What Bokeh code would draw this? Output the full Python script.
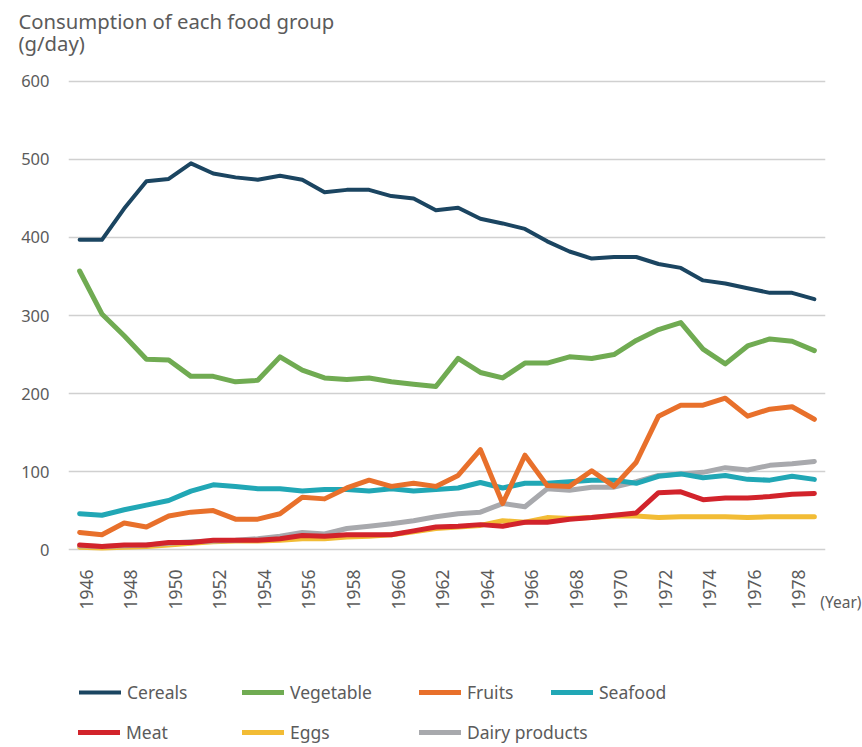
import math
from bokeh.plotting import figure
from bokeh.layouts import column
from bokeh.models import Range1d, FixedTicker, Title, Legend, LegendItem, ColumnDataSource
from bokeh.embed import file_html
from bokeh.resources import INLINE

years = list(range(1946, 1980))
tick_years = list(range(1946, 1980, 2))
y_ticks = [0, 100, 200, 300, 400, 500, 600]

cereals = [397, 397, 437, 472, 475, 495, 482, 477, 474, 479, 474, 458, 461, 461, 453, 450, 435,
           438, 424, 418, 411, 395, 382, 373, 375, 375, 366, 361, 345, 341, 335, 329, 329, 321]
vegetable = [357, 302, 274, 244, 243, 222, 222, 215, 217, 247, 230, 220, 218, 220, 215, 212, 209,
             245, 227, 220, 239, 239, 247, 245, 250, 268, 282, 291, 257, 238, 261, 270, 267, 255]
fruits = [22, 19, 34, 29, 43, 48, 50, 39, 39, 46, 67, 65, 79, 89, 81, 85, 81,
          95, 128, 59, 121, 82, 81, 101, 81, 112, 171, 185, 185, 194, 171, 180, 183, 167]
seafood = [46, 44, 51, 57, 63, 75, 83, 81, 78, 78, 75, 77, 77, 75, 78, 75, 77,
           79, 86, 79, 85, 85, 87, 89, 89, 85, 94, 97, 92, 95, 90, 89, 94, 90]
meat = [6, 4, 6, 6, 9, 9, 12, 12, 12, 14, 18, 17, 19, 19, 19, 24, 29,
        30, 32, 30, 35, 35, 39, 41, 44, 47, 73, 74, 64, 66, 66, 68, 71, 72]
eggs = [3, 2, 3, 4, 6, 8, 10, 11, 11, 12, 14, 14, 16, 17, 19, 23, 27,
        29, 31, 37, 35, 41, 40, 41, 43, 43, 41, 42, 42, 42, 41, 42, 42, 42]
dairy = [5, 4, 5, 6, 8, 10, 11, 12, 14, 17, 22, 20, 27, 30, 33, 37, 42,
         46, 48, 59, 55, 78, 76, 80, 80, 87, 95, 97, 99, 105, 102, 108, 110, 113]

series_names = ["Cereals", "Vegetable", "Fruits", "Seafood", "Meat", "Eggs", "Dairy products"]
series_values = [cereals, vegetable, fruits, seafood, meat, eggs, dairy]
series_colors = ["#1b4561", "#70ab52", "#e8702b", "#21a7b5", "#d2232b", "#f2bc35", "#a8a9ad"]
series_widths = [4, 5, 5, 5, 5, 5, 5]
draw_order = [5, 6, 3, 4, 2, 1, 0]

FONT = "Noto Sans"
TXT = "#5b5b5b"
W = 862
H_MAIN = 630
H_LEG = 747 - H_MAIN

p = figure(width=W, height=H_MAIN, output_backend="svg", toolbar_location=None,
           x_range=Range1d(1945.5, 1979.5), y_range=Range1d(-5, 605),
           min_border_left=68, min_border_right=37, min_border_top=77, min_border_bottom=77)
p.outline_line_color = None
p.background_fill_color = "white"
p.border_fill_color = "white"

for i in draw_order:
    src = ColumnDataSource(dict(x=years, y=series_values[i]))
    p.line("x", "y", source=src, line_color=series_colors[i], line_width=series_widths[i],
           line_join="round", line_cap="round")

# x axis: label slightly right of the point, as in the original
shift = 0.3
ticks = [y + shift for y in tick_years]
p.xaxis.ticker = FixedTicker(ticks=ticks)
p.xaxis.major_label_overrides = {t: str(y) for t, y in zip(ticks, tick_years)}
p.xaxis.major_label_orientation = math.pi / 2
p.xaxis.axis_line_color = None
p.xaxis.major_tick_line_color = None
p.xaxis.minor_tick_line_color = None
p.xaxis.major_tick_out = 0
p.xaxis.minor_tick_out = 0
p.xaxis.major_label_text_font = FONT
p.xaxis.major_label_text_font_size = "17.5px"
p.xaxis.major_label_text_color = TXT
p.xaxis.major_label_standoff = 16

p.yaxis.ticker = FixedTicker(ticks=y_ticks)
p.yaxis.axis_line_color = None
p.yaxis.major_tick_line_color = None
p.yaxis.minor_tick_line_color = None
p.yaxis.major_tick_out = 0
p.yaxis.minor_tick_out = 0
p.yaxis.major_label_text_font = FONT
p.yaxis.major_label_text_font_size = "16.5px"
p.yaxis.major_label_text_color = TXT
p.yaxis.major_label_standoff = 19

p.xgrid.grid_line_color = None
p.ygrid.grid_line_color = "#d0d0d0"
p.ygrid.grid_line_width = 1.6

# two title lines: the added "(g/day)" sits nearest the frame, p.title above it
p.title.text = "Consumption of each food group"
p.title.align = "left"
p.title.offset = -50
p.title.text_font = FONT
p.title.text_font_size = "20.3px"
p.title.text_font_style = "normal"
p.title.text_color = TXT
p.title.standoff = -56
p.add_layout(Title(text="(g/day)", align="left", offset=-50,
                   text_font=FONT, text_font_size="20.3px", text_font_style="normal",
                   text_color=TXT, standoff=41), "above")

p.add_layout(Title(text="(Year)", align="right", vertical_align="top", offset=-36,
                   text_font=FONT, text_font_size="15.5px", text_font_style="normal",
                   text_color=TXT, standoff=-44), "below")

# legend panel below the chart (its frame is aligned with the chart frame)
lg = figure(width=W, height=H_LEG, output_backend="svg", toolbar_location=None,
            x_range=Range1d(0, W), y_range=Range1d(0, H_LEG),
            x_axis_location=None, y_axis_location=None,
            min_border_left=0, min_border_right=0, min_border_top=0, min_border_bottom=0)
lg.outline_line_color = None
lg.xgrid.visible = False
lg.ygrid.visible = False
lg.background_fill_color = "white"
lg.border_fill_color = "white"

legend_pos = [(11, 43), (174, 43), (351, 43), (483, 43),
              (10, 3), (174, 3), (351, 3)]
for i, name in enumerate(series_names):
    src = ColumnDataSource(dict(x=years, y=series_values[i]))
    r = lg.line("x", "y", source=src, line_color=series_colors[i], line_width=series_widths[i],
                line_cap="round")
    leg = Legend(items=[LegendItem(label=name, renderers=[r])],
                 location=legend_pos[i], orientation="horizontal",
                 glyph_width=42, glyph_height=20, label_height=20, label_standoff=6,
                 padding=0, margin=0, border_line_color=None, background_fill_alpha=0,
                 label_text_font=FONT, label_text_font_size="17.5px", label_text_color=TXT)
    lg.add_layout(leg)

layout = column(p, lg, spacing=0)
open("out.html", "w").write(file_html(layout, INLINE))
